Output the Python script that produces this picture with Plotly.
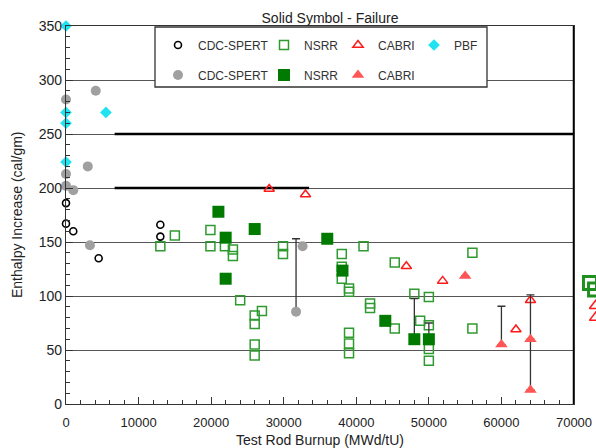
import plotly.graph_objects as go

# ---------------- data ----------------
# CDC-SPERT, no failure (open circles)
cdc_open_x = [0, 0, 1000, 4500, 13000, 13000]
cdc_open_y = [186, 167, 160, 135, 155, 166]

# CDC-SPERT, failure (filled grey circles)
cdc_fail_x = [4100, 0, 3000, 0, 0, 1000, 3300, 32600, 31700]
cdc_fail_y = [290, 282, 220, 213, 202, 198, 147, 146, 85.5]
cdc_fail_err = [None, None, None, None, None, None, None, None, 67.5]

# NSRR, no failure (open squares)
nsrr_open_x = [13000, 15000, 19900, 19900, 21900, 23000, 23000, 29900, 29900,
               24000, 27000, 26000, 26000, 26000, 26000,
               41000, 38000, 38000, 38000, 39000, 39000, 45300,
               48000, 50000, 48800, 50000, 50000, 50000,
               41900, 41900, 45300, 39000, 39000, 39000, 56000, 56000]
nsrr_open_y = [146, 156, 161, 146, 146, 143, 137, 146, 139,
               96, 86, 82, 74, 55, 45,
               146, 139, 127, 116, 107, 104, 131,
               102, 99, 77, 73, 51, 40,
               93, 89, 70, 66, 56, 47, 140, 70]

# NSRR, failure (filled squares)
nsrr_fail_x = [21000, 22000, 26000, 22000, 36000, 38100, 44000, 48000, 50000]
nsrr_fail_y = [178, 154, 162, 116, 153, 123.5, 77, 60, 60]
nsrr_fail_err = [None, None, None, None, None, None, None, 37.5, 15]

# CABRI, no failure (open triangles)
cabri_open_x = [28000, 33000, 46900, 51900, 62000, 64000]
cabri_open_y = [199, 194, 127.5, 114, 69, 96]

# CABRI, failure (filled triangles)
cabri_fail_x = [55000, 60000, 64000, 64000]
cabri_fail_y = [118.5, 55, 60, 13]
cabri_fail_err = [None, 35.5, None, 88]

# PBF (diamonds)
pbf_x = [0, 0, 0, 5500, 0]
pbf_y = [350, 270, 260, 270, 224]

# partly visible symbols cut by the right edge of the picture
edge_sq_x = [72200, 72900]
edge_sq_y = [112, 106]
edge_tri_x = [73000, 73000]
edge_tri_y = [91, 80]

x_ticks = [0, 10000, 20000, 30000, 40000, 50000, 60000, 70000]
y_ticks = [0, 50, 100, 150, 200, 250, 300, 350]

FONT = "Liberation Sans, Arial, sans-serif"
W, H = 596, 448
ML, MR, MT, MB = 66, 0, 26, 44
PLOT_RIGHT = 574                      # pixel of x = 70000
PW, PH = W - ML - MR, H - MT - MB
X_DOMAIN_END = (PLOT_RIGHT - ML) / PW
X_MAX = 70000
X2_MAX = X_MAX / X_DOMAIN_END         # same scale, extended to the picture edge


def px_x(p):
    return (p - ML) / PW


def px_y(p):
    return (H - MB - p) / PH


fig = go.Figure()

err_style = dict(type="data", symmetric=False, color="#333333",
                 thickness=1.3, width=4)

fig.add_trace(go.Scatter(
    x=cdc_open_x, y=cdc_open_y, mode="markers", name="CDC-SPERT",
    marker=dict(symbol="circle-open", size=7, color="black", line=dict(width=1.6)),
    legend="legend", cliponaxis=False))
fig.add_trace(go.Scatter(
    x=nsrr_open_x, y=nsrr_open_y, mode="markers", name="NSRR",
    marker=dict(symbol="square-open", size=9, color="#2f9a2f", line=dict(width=1.5)),
    legend="legend2", cliponaxis=False))
fig.add_trace(go.Scatter(
    x=cabri_open_x, y=cabri_open_y, mode="markers", name="CABRI",
    marker=dict(symbol="triangle-up-open", size=9, color="#ff1a1a", line=dict(width=1.5)),
    legend="legend3", cliponaxis=False))
fig.add_trace(go.Scatter(
    x=pbf_x, y=pbf_y, mode="markers", name="PBF",
    marker=dict(symbol="diamond", size=9, color="#1fe3f0"),
    legend="legend4", cliponaxis=False))
fig.add_trace(go.Scatter(
    x=cdc_fail_x, y=cdc_fail_y, mode="markers", name="CDC-SPERT",
    marker=dict(symbol="circle", size=10, color="#a0a0a0"),
    error_y=dict(array=cdc_fail_err, arrayminus=[0] * len(cdc_fail_x), **err_style),
    legend="legend5", cliponaxis=False))
fig.add_trace(go.Scatter(
    x=nsrr_fail_x, y=nsrr_fail_y, mode="markers", name="NSRR",
    marker=dict(symbol="square", size=12, color="#007a00"),
    error_y=dict(array=nsrr_fail_err, arrayminus=[0] * len(nsrr_fail_x), **err_style),
    legend="legend6", cliponaxis=False))
fig.add_trace(go.Scatter(
    x=cabri_fail_x, y=cabri_fail_y, mode="markers", name="CABRI",
    marker=dict(symbol="triangle-up", size=11, color="#ff5555"),
    error_y=dict(array=cabri_fail_err, arrayminus=[0] * len(cabri_fail_x), **err_style),
    legend="legend7", cliponaxis=False))
fig.add_trace(go.Scatter(
    x=edge_sq_x, y=edge_sq_y, mode="markers", showlegend=False, hoverinfo="skip",
    xaxis="x2", yaxis="y2",
    marker=dict(symbol="square-open", size=13, color="#1f8f1f", line=dict(width=3)),
    cliponaxis=False))
fig.add_trace(go.Scatter(
    x=edge_tri_x, y=edge_tri_y, mode="markers", showlegend=False, hoverinfo="skip",
    xaxis="x2", yaxis="y2",
    marker=dict(symbol="triangle-up-open", size=11, color="#ff1a1a", line=dict(width=1.5)),
    cliponaxis=False))

# legend: one entry per slot, laid out as in the reference (2 rows x 4 cols)
col_px = [178, 284, 358, 434]
row_px = [45, 75]
slots = [("legend", 0, 0), ("legend2", 1, 0), ("legend3", 2, 0), ("legend4", 3, 0),
         ("legend5", 0, 1), ("legend6", 1, 1), ("legend7", 2, 1)]
leg_layout = {}
for name, c, r in slots:
    leg_layout[name] = dict(
        x=px_x(col_px[c] - 20), y=px_y(row_px[r]), xanchor="left", yanchor="middle",
        bgcolor="rgba(0,0,0,0)", borderwidth=0,
        font=dict(family=FONT, size=12, color="#333333"))

fig.update_layout(
    width=W, height=H, autosize=False,
    margin=dict(l=ML, r=MR, t=MT, b=MB, pad=0),
    paper_bgcolor="white", plot_bgcolor="rgba(0,0,0,0)",
    font=dict(family=FONT, size=13, color="#222222"),
    title=dict(text="Solid Symbol - Failure", x=330 / W, xanchor="center",
               y=1 - 18 / H, yanchor="middle",
               font=dict(family=FONT, size=14, color="#222222")),
    xaxis=dict(domain=[0, X_DOMAIN_END], range=[0, X_MAX],
               tickmode="array", tickvals=x_ticks, ticktext=[str(v) for v in x_ticks],
               ticks="inside", ticklen=7, ticklabelstandoff=6,
               tickcolor="#333333", showgrid=False, zeroline=False,
               showline=True, linecolor="#333333", linewidth=1.2, mirror=True,
               automargin=False,
               minor=dict(dtick=2000, tick0=0, ticks="inside", ticklen=4,
                          tickcolor="#333333"),
               tickfont=dict(size=13, color="#222222"),
               title=dict(text="Test Rod Burnup (MWd/tU)", standoff=8,
                          font=dict(size=14, color="#222222"))),
    xaxis2=dict(domain=[0, 1], range=[0, X2_MAX], anchor="y2",
                visible=False, automargin=False, showgrid=False, zeroline=False),
    yaxis2=dict(domain=[0, 1], range=[0, 350], anchor="x2",
                visible=False, automargin=False, showgrid=False, zeroline=False),
    yaxis=dict(range=[0, 350], tickmode="array", tickvals=y_ticks,
               ticktext=[str(v) for v in y_ticks],
               ticks="inside", ticklen=7,
               tickcolor="#333333", showgrid=True, gridcolor="#555555", gridwidth=1,
               zeroline=False, showline=True, linecolor="#333333", linewidth=1.2,
               mirror=True, automargin=False,
               minor=dict(dtick=10, tick0=0, ticks="inside", ticklen=4,
                          tickcolor="#333333", showgrid=False),
               tickfont=dict(size=14, color="#222222")),
    annotations=[dict(text="Enthalpy Increase (cal/gm)", textangle=-90,
                      xref="paper", yref="paper", x=0, y=0.5, xshift=17 - ML,
                      xanchor="center", yanchor="middle", showarrow=False,
                      font=dict(family=FONT, size=14, color="#222222"))],
    shapes=[
        dict(type="line", xref="x", yref="y", x0=6700, x1=70000, y0=250, y1=250,
             line=dict(color="black", width=2.5), layer="between"),
        dict(type="line", xref="x", yref="y", x0=6700, x1=33500, y0=200, y1=200,
             line=dict(color="black", width=2.5), layer="between"),
        dict(type="line", xref="x", yref="y", x0=70000, x1=70000, y0=0, y1=350,
             line=dict(color="black", width=2.5), layer="above"),
        dict(type="rect", xref="paper", yref="paper",
             x0=px_x(155), x1=px_x(487), y0=px_y(87), y1=px_y(27),
             fillcolor="white", line=dict(color="#333333", width=1.3), layer="above"),
    ],
    **leg_layout,
)

fig.write_html("out.html", config={"displayModeBar": False},
               post_script="document.body.style.margin='0px';")
